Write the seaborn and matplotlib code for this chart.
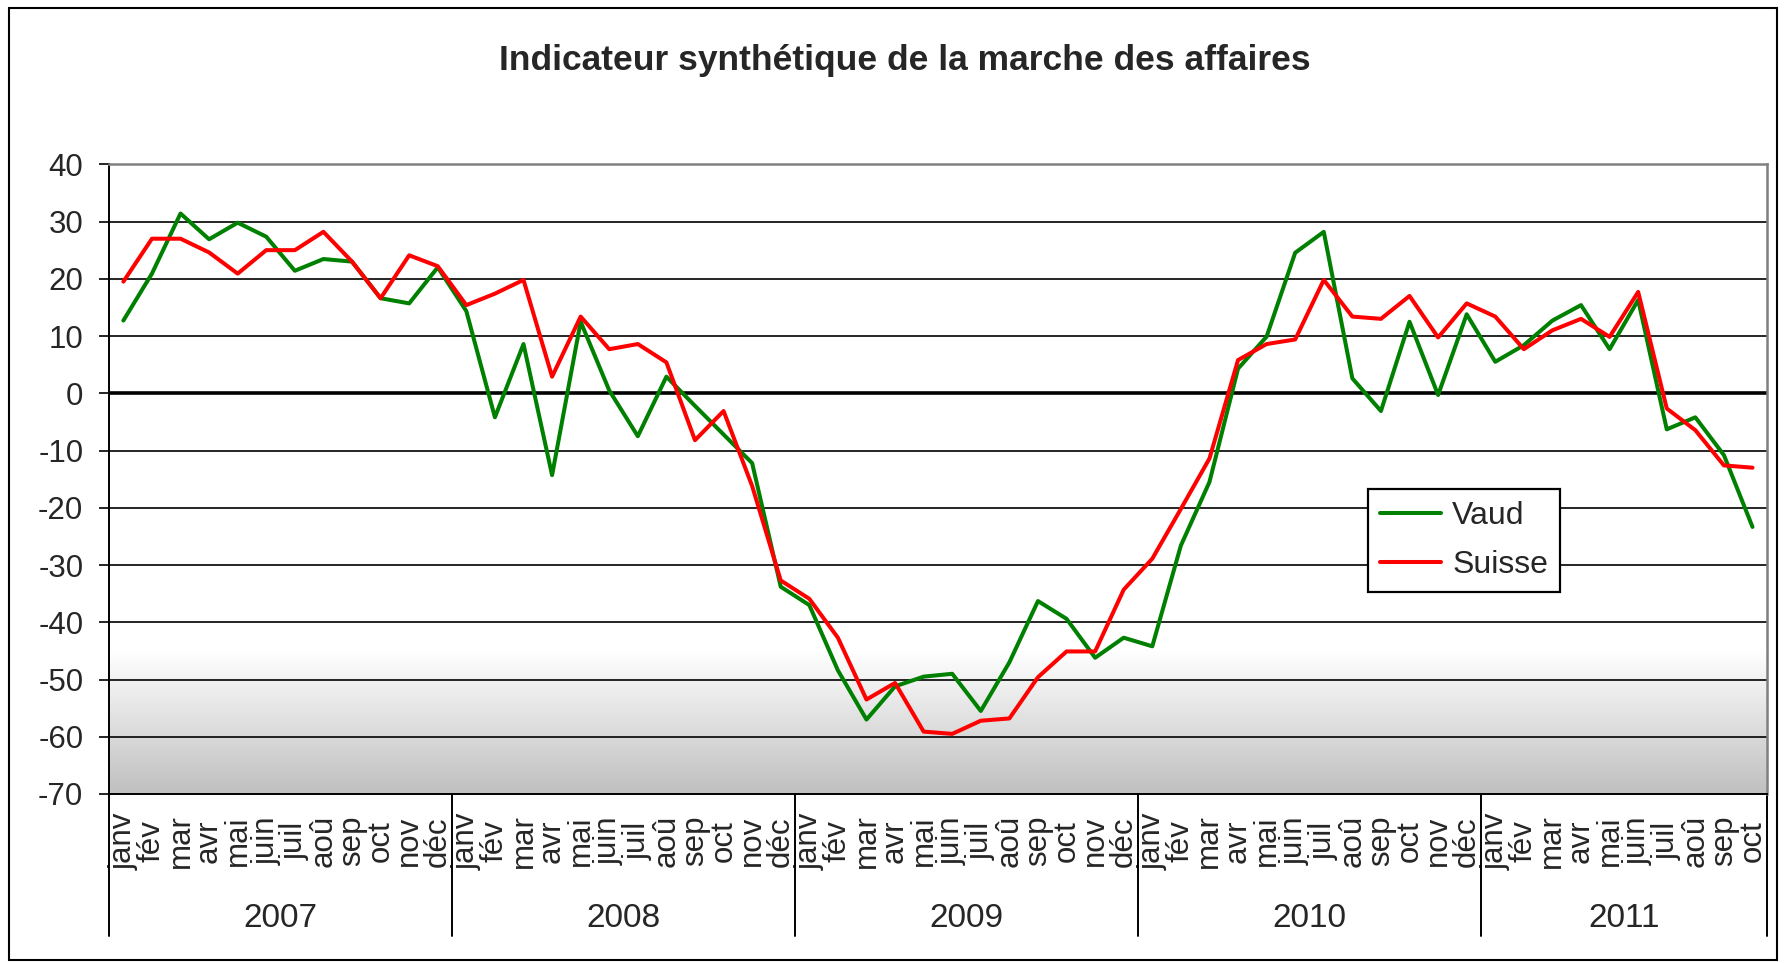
import numpy as np
import pandas as pd
import matplotlib
matplotlib.use('Agg')
import matplotlib.pyplot as plt
import seaborn as sns
from matplotlib.patches import Rectangle

# ---------------------
# Data
# ---------------------
months = ['janv', 'fév', 'mar', 'avr', 'mai', 'juin',
          'juil', 'aoû', 'sep', 'oct', 'nov', 'déc']
years = ['2007', '2008', '2009', '2010', '2011']
months_per_year = [12, 12, 12, 12, 10]

vaud = [12.7, 20.9, 31.4, 26.9, 29.8, 27.35, 21.4, 23.45, 23.0, 16.6, 15.7, 22.0,
        14.35, -4.2, 8.6, -14.3, 12.5, 0.5, -7.5, 2.9, -2.2, -7.2, -12.2, -33.8,
        -37.0, -48.4, -57.0, -51.2, -49.5, -49.0, -55.5, -47.0, -36.3, -39.4, -46.2, -42.7,
        -44.2, -26.6, -15.5, 4.3, 9.9, 24.55, 28.2, 2.6, -3.1, 12.5, -0.3, 13.8,
        5.5, 8.4, 12.7, 15.4, 7.7, 16.3, -6.3, -4.2, -10.8, -23.35]

suisse = [19.5, 27.0, 27.0, 24.6, 20.9, 25.0, 25.0, 28.2, 23.0, 16.6, 24.1, 22.2,
          15.4, 17.4, 19.8, 2.9, 13.4, 7.7, 8.6, 5.4, -8.2, -3.1, -16.2, -32.7,
          -35.9, -42.7, -53.5, -50.6, -59.1, -59.5, -57.2, -56.8, -49.6, -45.1, -45.1, -34.3,
          -28.9, -20.2, -11.4, 5.8, 8.6, 9.4, 19.8, 13.4, 13.0, 17.0, 9.75, 15.7,
          13.4, 7.7, 11.0, 13.0, 9.85, 17.7, -2.66, -6.45, -12.6, -13.0]

month_labels = []
for n in months_per_year:
    month_labels += months[:n]
n_pts = len(month_labels)

df = pd.DataFrame({
    'idx': list(range(n_pts)) * 2,
    'valeur': vaud + suisse,
    'serie': ['Vaud'] * n_pts + ['Suisse'] * n_pts,
})

# ---------------------
# Style
# ---------------------
sns.set_style('white')
plt.rcParams['font.family'] = ['Liberation Sans', 'DejaVu Sans']
plt.rcParams['axes.unicode_minus'] = False

fig = plt.figure(figsize=(17.85, 9.63), dpi=100)
ax = fig.add_axes([0.0611, 0.1755, 0.9287, 0.6539])

# gradient at the bottom of the plot area
grad = np.linspace(0, 1, 200).reshape(-1, 1)
ax.imshow(grad, extent=[-0.5, n_pts - 0.5, -70, -45], aspect='auto',
          cmap=matplotlib.colors.LinearSegmentedColormap.from_list(
              'g', ['#c0c0c0', '#ffffff']),
          origin='lower', zorder=0)

sns.lineplot(data=df, x='idx', y='valeur', hue='serie',
             palette={'Vaud': '#008000', 'Suisse': '#ff0000'},
             linewidth=2.9, ax=ax, legend=False, zorder=3)

lines = ax.get_lines()[:2]
leg = ax.legend(lines, ['Vaud', 'Suisse'], loc='upper left',
                bbox_to_anchor=(0.7595, 0.4844), borderaxespad=0,
                fancybox=False, edgecolor='black', framealpha=1,
                fontsize=23, handlelength=1.9, handletextpad=0.35,
                borderpad=0.38, labelspacing=0.6)
leg.get_frame().set_linewidth(1.6)
leg.set_zorder(5)

# gridlines
for v in range(-60, 40, 10):
    ax.axhline(v, color='black', linewidth=2.6 if v == 0 else 1.2, zorder=1)

ax.set_xlim(-0.5, n_pts - 0.5)
ax.set_ylim(-70, 40)
ax.set_yticks(range(-70, 41, 10))
ax.tick_params(axis='y', labelsize=22.5, length=7.5, width=1.2,
               color='black', pad=11, left=True)
ax.set_xticks(range(n_pts))
ax.set_xticklabels(month_labels, rotation=90, fontsize=22.5, va='center')
ax.tick_params(axis='x', length=0, pad=34)
ax.set_xlabel('')
ax.set_ylabel('')

for side in ['left', 'bottom']:
    ax.spines[side].set_color('black')
    ax.spines[side].set_linewidth(1.4)
for side in ['top', 'right']:
    ax.spines[side].set_color('#808080')
    ax.spines[side].set_linewidth(1.8)

# year groups
bounds = np.cumsum([0] + months_per_year) - 0.5
for b in bounds:
    ax.plot([b, b], [0, -0.225], transform=ax.get_xaxis_transform(),
            clip_on=False, color='black', linewidth=1.4)
for i, yr in enumerate(years):
    ax.text((bounds[i] + bounds[i + 1]) / 2, -0.197, yr,
            transform=ax.get_xaxis_transform(), ha='center', va='center',
            fontsize=24)

fig.text(0.507, 0.9375, 'Indicateur synthétique de la marche des affaires',
         ha='center', va='center', fontsize=25.5, fontweight='bold')

fig.patches.append(Rectangle((9 / 1785, 1 - 960 / 963), 1768 / 1785, 952 / 963,
                             transform=fig.transFigure, fill=False,
                             edgecolor='black', linewidth=1.5))

fig.savefig('out.png', dpi=100)
